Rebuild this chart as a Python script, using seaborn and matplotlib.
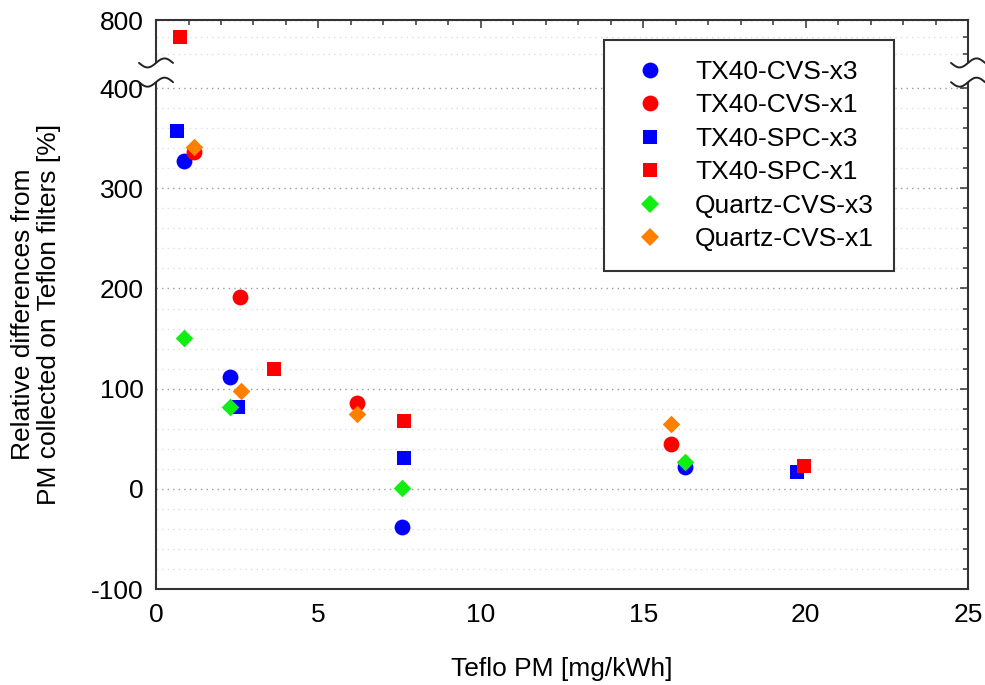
import numpy as np
import pandas as pd
import matplotlib
matplotlib.use("Agg")
import matplotlib.pyplot as plt
import seaborn as sns
from matplotlib.lines import Line2D

# ---------------- data ----------------
series_names = ["TX40-CVS-x3", "TX40-CVS-x1", "TX40-SPC-x3",
                "TX40-SPC-x1", "Quartz-CVS-x3", "Quartz-CVS-x1"]

tx40_cvs_x3_x = [0.86, 2.28, 7.57, 16.29]
tx40_cvs_x3_y = [327, 112, -38, 22]

tx40_cvs_x1_x = [1.17, 2.59, 6.18, 15.85]
tx40_cvs_x1_y = [336, 192, 86, 45]

tx40_spc_x3_x = [0.65, 2.53, 7.63, 19.74]
tx40_spc_x3_y = [357, 82, 31, 17]

tx40_spc_x1_x = [0.74, 3.64, 7.63, 19.95]
tx40_spc_x1_y = [700, 120, 68, 23]

quartz_cvs_x3_x = [0.86, 2.28, 7.57, 16.29]
quartz_cvs_x3_y = [151, 82, 1, 27]

quartz_cvs_x1_x = [1.17, 2.62, 6.18, 15.85]
quartz_cvs_x1_y = [341, 98, 75, 65]

x_ticks = [0, 5, 10, 15, 20, 25]
y_ticks = [-100, 0, 100, 200, 300, 400, 800]
y_tick_labels = ["-100", "0", "100", "200", "300", "400", "800"]

xs = [tx40_cvs_x3_x, tx40_cvs_x1_x, tx40_spc_x3_x, tx40_spc_x1_x,
      quartz_cvs_x3_x, quartz_cvs_x1_x]
ys = [tx40_cvs_x3_y, tx40_cvs_x1_y, tx40_spc_x3_y, tx40_spc_x1_y,
      quartz_cvs_x3_y, quartz_cvs_x1_y]

df = pd.concat(
    [pd.DataFrame({"x": x, "y": y, "series": n}) for n, x, y in zip(series_names, xs, ys)],
    ignore_index=True,
)

colors = {"TX40-CVS-x3": "#0000ff", "TX40-CVS-x1": "#ff0000",
          "TX40-SPC-x3": "#0000ff", "TX40-SPC-x1": "#ff0000",
          "Quartz-CVS-x3": "#11ee11", "Quartz-CVS-x1": "#ff8000"}
markers = {"TX40-CVS-x3": "o", "TX40-CVS-x1": "o",
           "TX40-SPC-x3": "s", "TX40-SPC-x1": "s",
           "Quartz-CVS-x3": "D", "Quartz-CVS-x1": "D"}
msize = {"o": 130, "s": 105, "D": 80}

# ---------------- style ----------------
sns.set_style("white")
plt.rcParams["font.family"] = ["Liberation Sans", "DejaVu Sans"]
for key in ("text.color", "axes.labelcolor", "xtick.color", "ytick.color"):
    plt.rcParams[key] = "black"

FS = 19

# broken axis: compress values above 400
K = 0.17


def fwd(y):
    y = np.asarray(y, dtype=float)
    return np.where(y > 400, 400 + (y - 400) * K, y)


def inv(u):
    u = np.asarray(u, dtype=float)
    return np.where(u > 400, 400 + (u - 400) / K, u)


fig = plt.figure(figsize=(9.85, 6.85), dpi=100)
ax = fig.add_axes([0.1584, 0.1401, 0.8244, 0.8307])
ax.set_yscale("function", functions=(fwd, inv))

for n in series_names:
    sub = df[df["series"] == n]
    sns.scatterplot(data=sub, x="x", y="y", color=colors[n], marker=markers[n],
                    s=msize[markers[n]], linewidth=0, ax=ax, legend=False, zorder=3)

ax.set_xlim(0, 25)
ax.set_ylim(-100, 800)
ax.set_xticks(x_ticks)
ax.set_yticks(y_ticks)
ax.set_yticklabels(y_tick_labels)
ax.minorticks_on()
ax.set_xticks(np.arange(0, 26, 1), minor=True)
ax.set_yticks(list(np.arange(-80, 400, 20)) + [600, 700], minor=True)

for s in ax.spines.values():
    s.set_linewidth(1.5)
    s.set_color("#333333")

ax.tick_params(which="both", direction="in", top=True, right=True,
               color="#333333", width=1.1)
ax.tick_params(which="major", length=6, labelsize=FS, pad=9, labelcolor="black")
ax.tick_params(which="minor", length=3.8)
ax.tick_params(axis="x", which="major", pad=10)

ax.yaxis.grid(True, which="major", linestyle=(0, (1, 3)), color="#9a9a9a", linewidth=1.0)
ax.yaxis.grid(True, which="minor", linestyle=(0, (1, 3)), color="#dddddd", linewidth=1.0)
ax.xaxis.grid(False)
ax.set_axisbelow(True)

ax.set_xlabel("Teflo PM [mg/kWh]", fontsize=FS, labelpad=22, color="black")
ax.set_ylabel("Relative differences from\nPM collected on Teflon filters [%]",
              fontsize=FS, linespacing=1.1, color="black")
ax.yaxis.set_label_coords(-0.148, 0.483)
ax.yaxis.label.set_va("center")

# ---------------- axis break marks ----------------
fig.canvas.draw()
to_axes = ax.transAxes.inverted()


def yfrac(v):
    return to_axes.transform(ax.transData.transform((0, v)))[1]


f_lo = yfrac(435)
f_hi = yfrac(548)
hw = 17 / 812.0
amp = 4.5 / 569.0
t = np.linspace(-1, 1, 60)
for xs0 in (0.0, 1.0):
    ax.plot([xs0, xs0], [f_lo, f_hi], transform=ax.transAxes, color="white",
            lw=4, clip_on=False, zorder=6, solid_capstyle="butt")
    for fy in (f_lo, f_hi):
        ax.plot(xs0 + t * hw, fy + amp * np.sin(np.pi * t), transform=ax.transAxes,
                color="#222222", lw=1.4, clip_on=False, zorder=7)

# ---------------- legend ----------------
handles = [Line2D([], [], linestyle="none", marker=markers[n], color=colors[n],
                  markersize=np.sqrt(msize[markers[n]]), markeredgewidth=0)
           for n in series_names]
leg = ax.legend(handles, series_names, loc="upper left", bbox_to_anchor=(0.5517, 0.9649),
                borderaxespad=0, frameon=True, fancybox=False, framealpha=1,
                edgecolor="#333333", fontsize=FS, borderpad=0.75, labelspacing=0.36,
                handlelength=2.0, handletextpad=0.7)
leg.get_frame().set_linewidth(1.5)
leg.set_zorder(10)

fig.savefig("out.png", dpi=100)
